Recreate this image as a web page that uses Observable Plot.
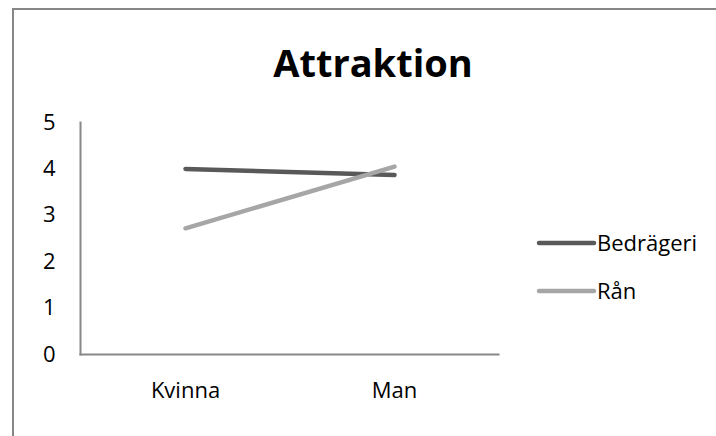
<!DOCTYPE html>
<html><head><meta charset="utf-8">
<script src="https://cdn.jsdelivr.net/npm/d3@7"></script>
<script src="https://cdn.jsdelivr.net/npm/@observablehq/plot@0.6"></script>
<style>
body{margin:0;background:#fff}
#wrap{position:relative;width:716px;height:436px;overflow:hidden}
#frame{position:absolute;left:12px;top:8px;width:800px;height:600px;border:2px solid #878787;box-sizing:border-box}
#chart{position:absolute;left:0;top:0}
</style>
</head><body>
<div id="wrap"><div id="frame"></div><div id="chart"></div></div>
<script>
const title = "Attraktion";
const categories = ["Kvinna", "Man"];
const series = ["Bedrägeri", "Rån"];
const bedrageri = [4.0, 3.87];
const ran = [2.72, 4.05];
const yTicks = [0, 1, 2, 3, 4, 5];
const colors = ["#595959", "#a6a6a6"];

const font = "'Open Sans', sans-serif";
const values = [bedrageri, ran];
const data = [];
series.forEach((s, i) => categories.forEach((c, j) => data.push({series: s, cat: c, value: values[i][j]})));

const chart = Plot.plot({
  width: 716, height: 436,
  marginLeft: 80, marginRight: 218, marginTop: 122, marginBottom: 82,
  style: {fontFamily: font, fontSize: "22px", color: "#000", background: "transparent"},
  x: {type: "point", domain: categories, padding: 0.5, label: null},
  y: {domain: [0, 5], label: null},
  color: {domain: series, range: colors},
  marks: [
    Plot.axisY({ticks: yTicks, tickFormat: d3.format("d"), tickSize: 0, tickPadding: 25, fontSize: 22, label: null}),
    Plot.axisX({tickSize: 0, tickPadding: 28, fontSize: 22, label: null}),
    Plot.frame({anchor: "left", stroke: "#878787", strokeWidth: 2}),
    Plot.frame({anchor: "bottom", stroke: "#878787", strokeWidth: 2}),
    Plot.line(data, {x: "cat", y: "value", z: "series", stroke: "series", strokeWidth: 4.5, strokeLinecap: "round"})
  ]
});
document.getElementById("chart").appendChild(chart);

const svg = d3.select(chart);
svg.append("text")
  .attr("x", 373).attr("y", 77)
  .attr("text-anchor", "middle")
  .attr("font-family", font).attr("font-weight", "bold").attr("font-size", 38)
  .attr("fill", "#000")
  .text(title);

const lg = svg.append("g");
series.forEach((s, i) => {
  const y = 243 + i * 48;
  lg.append("line").attr("x1", 539).attr("x2", 594).attr("y1", y).attr("y2", y)
    .attr("stroke", colors[i]).attr("stroke-width", 4.5).attr("stroke-linecap", "round");
  lg.append("text").attr("x", 597).attr("y", y + 8)
    .attr("text-anchor", "start")
    .attr("font-family", font).attr("font-size", 22).attr("fill", "#000").text(s);
});
</script>
</body></html>
